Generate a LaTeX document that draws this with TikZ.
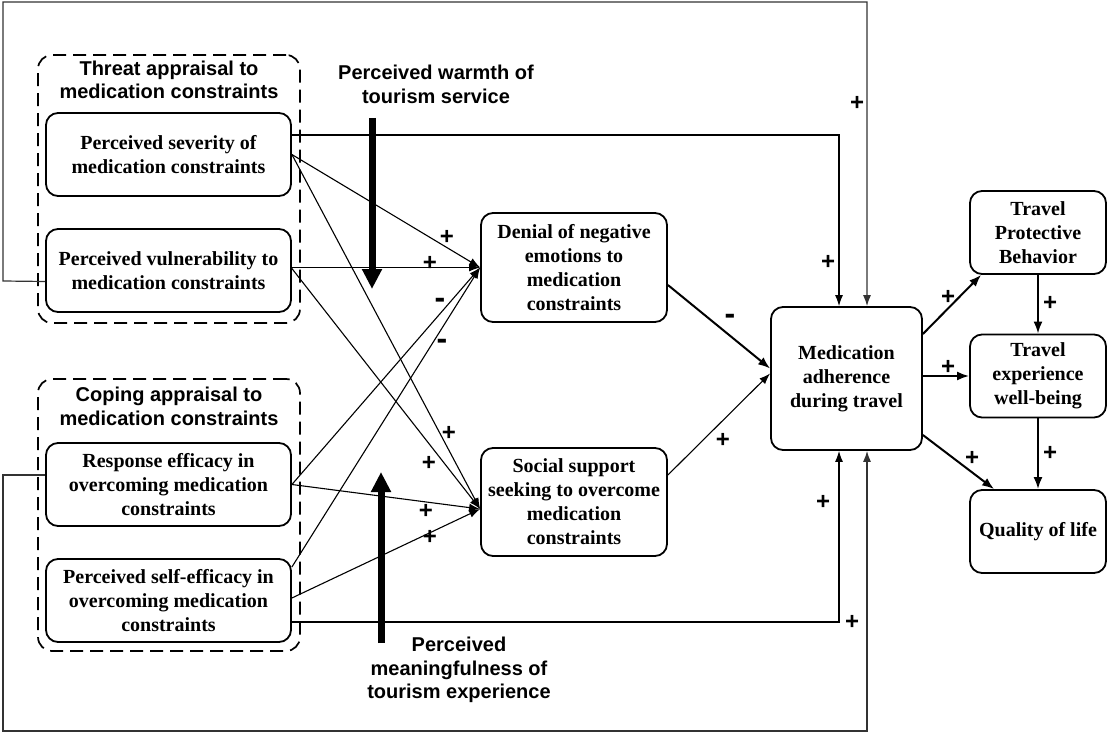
\documentclass[tikz,border=0pt]{standalone}
\usepackage{fontspec}
\setmainfont{Liberation Serif}
\newfontfamily\labelfont{Liberation Sans}
\usetikzlibrary{arrows.meta}

\begin{document}
\begin{tikzpicture}[x=1pt,y=-1pt,
  box/.style={draw, line width=1.8pt, rounded corners=12pt, align=center,
    font=\fontsize{20}{24}\selectfont\bfseries, inner sep=0pt},
  group/.style={draw, dash pattern=on 13pt off 7pt, line width=1.7pt,
    rounded corners=14pt, inner sep=0pt},
  title/.style={align=center, font=\labelfont\fontsize{20}{23.5}\selectfont\bfseries},
  sign/.style={font=\labelfont\fontsize{24}{24}\selectfont\bfseries, inner sep=0pt},
  negsign/.style={font=\labelfont\fontsize{32}{32}\selectfont\bfseries, inner sep=0pt},
  conn/.style={line width=1.1pt, -{Latex[length=11pt,width=8pt]}},
  boldconn/.style={line width=2pt, -{Latex[length=12pt,width=9pt]}},
  frame/.style={line width=1.2pt, draw=black!80, -{Latex[length=11pt,width=8pt]}},
  moderator/.style={line width=7pt, -{Triangle[length=20pt,width=19pt]}}
]
\fill[white] (0,0) rectangle (1109,733);
\useasboundingbox (0,0) rectangle (1109,733);

% appraisal groups
\node[group, minimum width=262pt, minimum height=268pt] (threat) at (169,189) {};
\node[group, minimum width=262pt, minimum height=272pt] (coping) at (169,515) {};
\node[title] (threatT) at (169,80) {Threat appraisal to\\medication constraints};
\node[title] (copingT) at (169,406.5) {Coping appraisal to\\medication constraints};

% antecedents
\node[box, minimum width=245pt, minimum height=83pt] (sev) at (168.5,154.5)
  {Perceived severity of\\medication constraints};
\node[box, minimum width=245pt, minimum height=83pt] (vul) at (168.5,270.5)
  {Perceived vulnerability to\\medication constraints};
\node[box, minimum width=245pt, minimum height=83pt] (resp) at (168.5,484.5)
  {Response efficacy in\\overcoming medication\\constraints};
\node[box, minimum width=245pt, minimum height=83pt] (self) at (168.5,600.5)
  {Perceived self-efficacy in\\overcoming medication\\constraints};

% mediators and outcomes
\node[box, minimum width=186pt, minimum height=109pt] (den) at (574,267.5)
  {Denial of negative\\emotions to\\medication\\constraints};
\node[box, minimum width=186pt, minimum height=108pt] (soc) at (574,502)
  {Social support\\seeking to overcome\\medication\\constraints};
\node[box, minimum width=151pt, minimum height=143pt] (med) at (846.5,378.5)
  {Medication\\adherence\\during travel};
\node[box, minimum width=136pt, minimum height=83pt] (tpb) at (1038,232.5)
  {Travel\\Protective\\Behavior};
\node[box, minimum width=136pt, minimum height=83pt] (tew) at (1038,376)
  {Travel\\experience\\well-being};
\node[box, minimum width=136pt, minimum height=83pt] (qol) at (1038,531.5)
  {Quality of life};

% moderators
\node[title] (warmth) at (436,84.5) {Perceived warmth of\\tourism service};
\node[title] (meaning) at (459,670) {Perceived\\meaningfulness of\\tourism experience};
\coordinate (warmthA) at (372,118);
\coordinate (warmthB) at (372,289);
\coordinate (meaningA) at (381,643);
\coordinate (meaningB) at (381,472);

% entry points
\coordinate (socin) at ([yshift=-7pt]soc.west);
\coordinate (medin) at ([yshift=10pt]med.west);
\coordinate (medN1) at ([xshift=-7.5pt]med.north);
\coordinate (medN2) at ([xshift=20.5pt]med.north);
\coordinate (medS1) at ([xshift=-7.5pt]med.south);
\coordinate (medS2) at ([xshift=20.5pt]med.south);

% long feedback paths
\draw[frame] ([yshift=-11pt]vul.west) -- (3,281) -- (3,2) -- (867,2) -- (medN2);
\draw[frame] ([yshift=9.5pt]resp.west) -- (3,475) -- (3,731) -- (867,731) -- (medS2);
\draw[conn] ([yshift=19.5pt]sev.east) -| (medN1);
\draw[conn] ([yshift=-21.5pt]self.east) -| (medS1);

% antecedents to mediators
\draw[conn] (sev.east) -- (den.west);
\draw[conn] (sev.east) -- (socin);
\draw[conn] (vul.east |- den.west) -- (den.west);
\draw[conn] ([yshift=2pt]vul.east) -- (socin);
\draw[conn] (resp.east) -- (den.west);
\draw[conn] (resp.east) -- (socin);
\draw[conn] ([yshift=33.5pt]self.east) -- (den.west);
\draw[conn] ([yshift=2.5pt]self.east) -- (socin);

% mediators to adherence
\draw[boldconn] ([yshift=-17.5pt]den.east) -- (medin);
\draw[conn] ([yshift=27pt]soc.east) -- ([yshift=-5pt]medin);

% adherence to outcomes
\draw[boldconn] ([yshift=44.5pt]med.east) -- ([xshift=12pt]tpb.south west);
\draw[boldconn] (med.east |- tew.west) -- (tew.west);
\draw[boldconn] ([yshift=-56.5pt]med.east) -- ([xshift=25pt]qol.north west);
\draw[boldconn] (tpb.south) -- (tew.north);
\draw[boldconn] (tew.south) -- (qol.north);

% moderator arrows
\draw[moderator] (warmthA) -- (warmthB);
\draw[moderator] (meaningA) -- (meaningB);

% path signs
\node[sign] (s1) at (857,103) {+};
\node[sign] (s2) at (828,262) {+};
\node[sign] (s3) at (447,237) {+};
\node[sign] (s4) at (430,263) {+};
\node[negsign] (s5) at (440,303) {-};
\node[negsign] (s6) at (442,344) {-};
\node[sign] (s7) at (449,433) {+};
\node[sign] (s8) at (429,463) {+};
\node[sign] (s9) at (426,511) {+};
\node[sign] (s10) at (430,537) {+};
\node[negsign] (s11) at (730,319) {-};
\node[sign] (s12) at (723,440) {+};
\node[sign] (s13) at (823,502) {+};
\node[sign] (s14) at (852,622) {+};
\node[sign] (s15) at (948,297) {+};
\node[sign] (s16) at (948,367) {+};
\node[sign] (s17) at (972,458) {+};
\node[sign] (s18) at (1050,303) {+};
\node[sign] (s19) at (1050,453) {+};
\end{tikzpicture}
\end{document}
